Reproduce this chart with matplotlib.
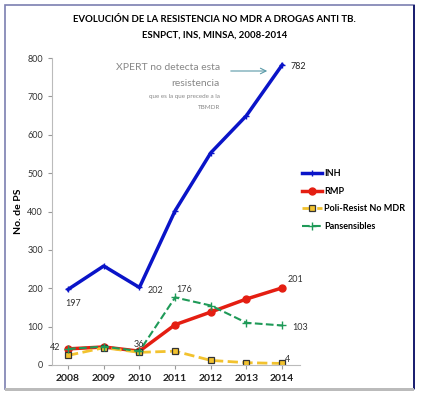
import matplotlib.pyplot as plt
from matplotlib.patches import Rectangle

years = [2008, 2009, 2010, 2011, 2012, 2013, 2014]
inh = [197, 258, 202, 402, 553, 650, 782]
rmp = [42, 47, 36, 105, 138, 172, 201]
poli = [25, 45, 33, 36, 12, 6, 4]
pansens = [42, 48, 36, 176, 155, 110, 103]

plt.rcParams['font.family'] = ['Lato', 'DejaVu Sans']

fig = plt.figure(figsize=(4.21, 3.95), dpi=100)
ax = fig.add_axes([52/421, 30/395, 248/421, 307/395])

ax.plot(years, inh, color='#0a14c8', lw=2.5, marker='+', ms=5, mew=1, label='INH')
ax.plot(years, rmp, color='#e41e12', lw=2.5, marker='o', ms=5, label='RMP')
ax.plot(years, poli, color='#f2c22e', lw=2, ls='--', marker='s', ms=4,
        mfc='#f2c22e', mec='#333333', mew=0.9, label='Poli-Resist No MDR')
ax.plot(years, pansens, color='#1f9a58', lw=1.5, ls='--', marker='+', ms=6, mew=1,
        label='Pansensibles')

ax.set_xlim(2007.55, 2014.5)
ax.set_ylim(0, 800)
ax.set_yticks(range(0, 801, 100))
ax.set_xticks(years)
ax.tick_params(axis='y', labelsize=6.5, colors='#999999', length=3, labelcolor='#333333')
ax.tick_params(axis='x', labelsize=7.5, length=3, colors='#999999', labelcolor='#222222')
for t in ax.get_xticklabels():
    t.set_fontweight('bold')
for s in ['top', 'right']:
    ax.spines[s].set_visible(False)
for s in ['left', 'bottom']:
    ax.spines[s].set_color('#bbbbbb')
ax.set_ylabel('No. de PS', fontsize=7.5, fontweight='bold', labelpad=3)

# value labels
fs = 6.5
ax.annotate('197', (years[0], inh[0]), xytext=(-2, -12), textcoords='offset points', fontsize=fs, color='#333333')
ax.annotate('202', (years[2], inh[2]), xytext=(6, -4), textcoords='offset points', fontsize=fs, color='#333333')
ax.annotate('782', (years[6], inh[6]), xytext=(6, -3), textcoords='offset points', fontsize=fs, color='#222222')
ax.annotate('201', (years[6], rmp[6]), xytext=(4, 4), textcoords='offset points', fontsize=fs, color='#333333')
ax.annotate('103', (years[6], pansens[6]), xytext=(7, -3), textcoords='offset points', fontsize=fs, color='#333333')
ax.annotate('4', (years[6], poli[6]), xytext=(2, 1), textcoords='offset points', fontsize=fs, color='#333333')
ax.annotate('176', (years[3], pansens[3]), xytext=(1, 4), textcoords='offset points', fontsize=fs, color='#333333')
ax.annotate('36', (years[2], rmp[2]), xytext=(-4, 3), textcoords='offset points', fontsize=fs, color='#333333')
ax.annotate('42', (years[0], rmp[0]), xytext=(-13, -1), textcoords='offset points', fontsize=fs, color='#333333')

# note and arrow
fig.text(220/421, 1 - 70/395, 'XPERT no detecta esta', ha='right', fontsize=7.5, color='#888888')
fig.text(220/421, 1 - 86/395, 'resistencia', ha='right', fontsize=7.5, color='#888888')
fig.text(220/421, 1 - 98/395, 'que es la que precede a la', ha='right', fontsize=4.5, color='#888888')
fig.text(220/421, 1 - 109/395, 'TBMDR', ha='right', fontsize=4.5, color='#888888')
fig.add_artist(plt.Annotation('', xy=(270/421, 1 - 71/395), xytext=(228/421, 1 - 71/395),
                              xycoords='figure fraction', textcoords='figure fraction',
                              arrowprops=dict(arrowstyle='->', color='#5a9aa8', lw=0.8)))

fig.text(0.51, 1 - 20/395, 'EVOLUCIÓN DE LA RESISTENCIA NO MDR A DROGAS ANTI TB.',
         ha='center', va='center', fontsize=6.9, fontweight='bold')
fig.text(0.51, 1 - 35/395, 'ESNPCT, INS, MINSA, 2008-2014',
         ha='center', va='center', fontsize=6.9, fontweight='bold')

leg = ax.legend(loc='upper left', bbox_to_anchor=(296/421, 1 - 163/395),
                bbox_transform=fig.transFigure, frameon=False, fontsize=6.5,
                handlelength=2.2, labelspacing=0.95, handletextpad=0.2, borderpad=0.2)
for t in leg.get_texts():
    t.set_fontweight('bold')

# frame
fig.add_artist(Rectangle((5/421, 6/395), 409/421, 384/395, transform=fig.transFigure,
                         fill=False, ec='#7b7fb0', lw=1.2))
fig.add_artist(Rectangle((413/421, 6/395), 1.5/421, 384/395, transform=fig.transFigure,
                         color='#1c2070', lw=0))
fig.add_artist(Rectangle((5/421, 4/395), 409/421, 3/395, transform=fig.transFigure,
                         color='#bbbbbb', lw=0))

fig.savefig('out.png', dpi=100)
